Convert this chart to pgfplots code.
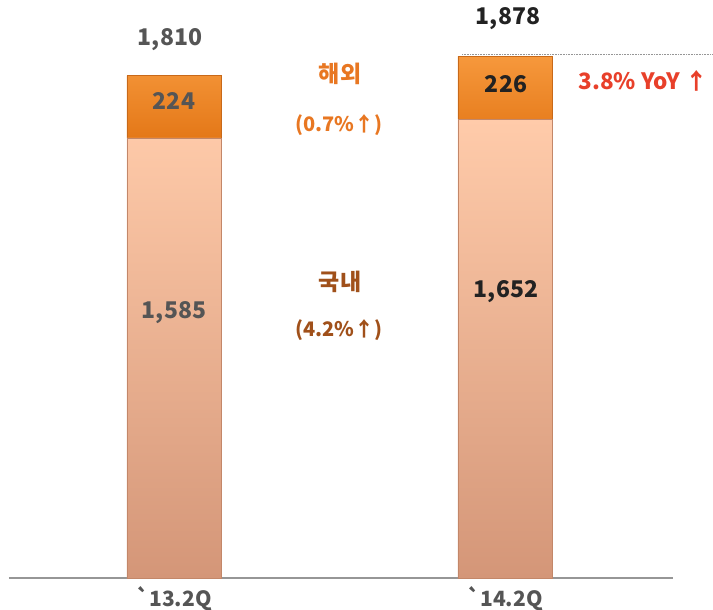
\documentclass[border=0pt]{standalone}
\usepackage{pgfplots}
\pgfplotsset{compat=1.18}
\usepackage{fontspec}
\setmainfont{Noto Sans CJK KR}
\definecolor{numgray}{RGB}{85,85,85}
\definecolor{numblack}{RGB}{34,34,34}
\definecolor{orangetxt}{RGB}{232,119,34}
\definecolor{browntxt}{RGB}{160,80,26}
\definecolor{redtxt}{RGB}{232,64,42}
\definecolor{axgray}{RGB}{150,150,150}
\begin{document}
\begin{tikzpicture}[x=1pt,y=1pt]
\begin{axis}[
  at={(9pt,32pt)}, anchor=south west,
  scale only axis, width=664pt, height=555.4pt,
  xmin=-0.498, xmax=1.508, ymin=0, ymax=2000,
  ybar stacked, bar width=94pt,
  axis x line*=bottom, axis y line=none,
  x axis line style={axgray, line width=1.5pt, -},
  xtick={0,1}, xticklabels={\textasciigrave13.2Q, \textasciigrave14.2Q},
  major tick length=0pt, ytick=\empty,
  xticklabel style={font=\fontsize{21}{23}\selectfont\bfseries, text=numgray, yshift=-5pt},
  clip=false,
]
\addplot[draw={rgb,255:red,195;green,135;blue,105}, line width=0.6pt,
  top color={rgb,255:red,255;green,203;blue,170}, bottom color={rgb,255:red,212;green,150;blue,120}]
  coordinates {(0,1585) (1,1652)};
\addplot[draw={rgb,255:red,200;green,105;blue,25}, line width=0.6pt,
  top color={rgb,255:red,246;green,152;blue,60}, bottom color={rgb,255:red,228;green,120;blue,24}]
  coordinates {(0,224) (1,226)};
\end{axis}
% dotted reference line
\draw[axgray, densely dotted, line width=0.6pt] (462,556) -- (713,556);
% labels
\node[text=numgray, font=\fontsize{23}{26}\selectfont\bfseries] at (170,570) {1,810};
\node[text=numgray, font=\fontsize{23}{26}\selectfont\bfseries] at (174,509) {224};
\node[text=numgray, font=\fontsize{23}{26}\selectfont\bfseries] at (174,297) {1,585};
\node[text=numblack, font=\fontsize{23}{26}\selectfont\bfseries] at (508,591) {1,878};
\node[text=numblack, font=\fontsize{23}{26}\selectfont\bfseries] at (506,526) {226};
\node[text=numblack, font=\fontsize{23}{26}\selectfont\bfseries] at (506,318) {1,652};
\node[text=orangetxt, font=\fontsize{23}{26}\selectfont\bfseries] at (340,536) {해외};
\node[text=orangetxt, font=\fontsize{20}{24}\selectfont\bfseries] at (339,485) {(0.7\%↑)};
\node[text=browntxt, font=\fontsize{23}{26}\selectfont\bfseries] at (340,328) {국내};
\node[text=browntxt, font=\fontsize{20}{24}\selectfont\bfseries] at (339,280) {(4.2\%↑)};
\node[text=redtxt, font=\fontsize{22.5}{26}\selectfont\bfseries] at (643,529) {3.8\% YoY ↑};
\pgfresetboundingbox
\useasboundingbox (0,0) rectangle (713,610);
\end{tikzpicture}
\end{document}
